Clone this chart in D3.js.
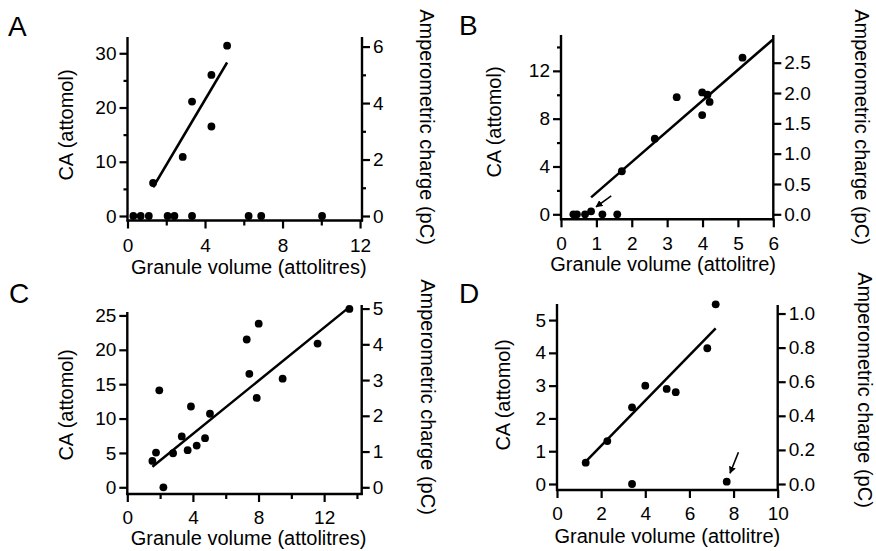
<!DOCTYPE html>
<html>
<head>
<meta charset="utf-8">
<script src="https://cdn.jsdelivr.net/npm/d3@7"></script>
<style>
  body { margin: 0; background: #fff; }
  text { font-family: "Liberation Sans", Arial, Helvetica, sans-serif; fill: #000; }
</style>
</head>
<body>
<div class="chart"></div>
<script>
// ---- data ----
// A
var aVolume = [0.3, 0.68, 1.1, 2.07, 2.42, 3.33, 6.25, 6.9, 10.04, 1.32, 2.85, 3.33, 4.33, 4.33, 5.14];
var aCA     = [0, 0, 0, 0, 0, 0, 0, 0, 0, 6.1, 10.9, 21.1, 16.5, 26.0, 31.4];
var aFitX = [1.32, 5.14], aFitY = [5.3, 28.3];
// B
var bVolume = [0.35, 0.45, 0.68, 0.85, 1.17, 1.59, 1.72, 2.65, 3.27, 3.99, 3.99, 4.14, 4.2, 5.13];
var bCA     = [0, 0, 0, 0.25, 0, 0, 3.6, 6.33, 9.8, 10.2, 8.3, 10.0, 9.4, 13.1];
var bFitX = [0.85, 6.0], bFitY = [1.42, 14.65];
var bArrow = [[1.42, 1.55], [0.99, 0.62]];
// C
var cVolume = [1.53, 1.75, 1.95, 2.2, 2.79, 3.32, 3.68, 3.88, 4.23, 4.74, 5.04, 7.28, 7.44, 8.01, 7.89, 9.47, 11.6, 13.54];
var cCA     = [3.83, 5.05, 14.1, 0, 4.95, 7.4, 5.4, 11.75, 6.07, 7.14, 10.7, 21.5, 16.5, 23.8, 13.0, 15.8, 20.9, 25.95];
var cFitX = [1.53, 13.48], cFitY = [3.0, 26.1];
// D
var dVolume = [1.3, 2.28, 3.4, 3.4, 4.0, 4.97, 5.38, 6.81, 7.19, 7.69];
var dCA     = [0.65, 1.31, 2.34, 0, 3.0, 2.9, 2.8, 4.14, 5.48, 0.07];
var dFitX = [1.3, 7.19], dFitY = [0.68, 4.75];
var dArrow = [[8.22, 0.97], [7.84, 0.33]];

// ticks
var aXTicks = [0, 4, 8, 12], aXMinor = [2, 6, 10];
var aYTicks = [0, 10, 20, 30], aYMinor = [5, 15, 25];
var aRTicks = [0, 2, 4, 6], aRMinor = [1, 3, 5];
var bXTicks = [0, 1, 2, 3, 4, 5, 6], bXMinor = [];
var bYTicks = [0, 4, 8, 12], bYMinor = [2, 6, 10, 14];
var bRTicks = [0, 0.5, 1.0, 1.5, 2.0, 2.5], bRMinor = [];
var cXTicks = [0, 4, 8, 12], cXMinor = [2, 6, 10, 14];
var cYTicks = [0, 5, 10, 15, 20, 25], cYMinor = [];
var cRTicks = [0, 1, 2, 3, 4, 5], cRMinor = [];
var dXTicks = [0, 2, 4, 6, 8, 10], dXMinor = [];
var dYTicks = [0, 1, 2, 3, 4, 5], dYMinor = [];
var dRTicks = [0, 0.2, 0.4, 0.6, 0.8, 1.0], dRMinor = [];

var svg = d3.select(".chart")
    .append("svg")
    .attr("width", 876)
    .attr("height", 551);

svg.append("defs").append("marker")
    .attr("id", "head")
    .attr("viewBox", "0 0 10 10")
    .attr("refX", 9).attr("refY", 5)
    .attr("markerWidth", 4.5).attr("markerHeight", 4.5)
    .attr("markerUnits", "strokeWidth")
    .attr("orient", "auto")
    .append("path")
    .attr("d", "M0,0 L10,5 L0,10 z")
    .attr("fill", "black");

function panel(p) {
    var g = svg.append("g");
    var x = d3.scaleLinear().domain([0, p.xMax]).range([p.left, p.right]);
    var y = d3.scaleLinear().domain([0, p.yMax]).range([p.zero, p.yTop]);
    var r = d3.scaleLinear().domain([0, p.rMax]).range([p.zero, p.rTop]);

    function style(ax) {
        ax.select(".domain").remove();
        ax.selectAll("line").attr("stroke", "black").attr("stroke-width", 2.2);
        ax.selectAll("text").style("font-size", "19px")
            .style("font-family", '"Liberation Sans", Arial, sans-serif');
    }

    // left axis
    var la = g.append("g").attr("transform", "translate(" + p.left + ",0)")
        .call(d3.axisLeft(y).tickValues(p.yTicks).tickSize(8).tickPadding(3).tickFormat(d3.format("d")));
    style(la);
    var lm = g.append("g").attr("transform", "translate(" + p.left + ",0)")
        .call(d3.axisLeft(y).tickValues(p.yMinor).tickSize(4).tickFormat(""));
    style(lm);
    // right axis
    var ra = g.append("g").attr("transform", "translate(" + p.right + ",0)")
        .call(d3.axisRight(r).tickValues(p.rTicks).tickSize(8).tickPadding(3).tickFormat(d3.format(p.rFmt)));
    style(ra);
    var rm = g.append("g").attr("transform", "translate(" + p.right + ",0)")
        .call(d3.axisRight(r).tickValues(p.rMinor).tickSize(4).tickFormat(""));
    style(rm);
    // bottom axis
    var ba = g.append("g").attr("transform", "translate(0," + p.base + ")")
        .call(d3.axisBottom(x).tickValues(p.xTicks).tickSize(8).tickPadding(p.xPad).tickFormat(d3.format("d")));
    style(ba);
    var bm = g.append("g").attr("transform", "translate(0," + p.base + ")")
        .call(d3.axisBottom(x).tickValues(p.xMinor).tickSize(5).tickFormat(""));
    style(bm);

    // axis lines
    g.append("line").attr("x1", p.left).attr("x2", p.left)
        .attr("y1", p.yTop).attr("y2", p.base + 1)
        .attr("stroke", "black").attr("stroke-width", 2.4);
    g.append("line").attr("x1", p.right).attr("x2", p.right)
        .attr("y1", p.rTop).attr("y2", p.base + 1)
        .attr("stroke", "black").attr("stroke-width", 2.4);
    g.append("line").attr("x1", p.left - 1).attr("x2", p.right + 1)
        .attr("y1", p.base).attr("y2", p.base)
        .attr("stroke", "black").attr("stroke-width", 2.4);

    // fit line
    g.append("line")
        .attr("x1", x(p.fitX[0])).attr("y1", y(p.fitY[0]))
        .attr("x2", x(p.fitX[1])).attr("y2", y(p.fitY[1]))
        .attr("stroke", "black").attr("stroke-width", 2.5);

    // points
    g.selectAll("circle.pt")
        .data(p.vol.map(function (v, i) { return [v, p.ca[i]]; }))
        .enter().append("circle")
        .attr("cx", function (d) { return x(d[0]); })
        .attr("cy", function (d) { return y(d[1]); })
        .attr("r", 3.9)
        .attr("fill", "black");

    if (p.arrow) {
        g.append("line")
            .attr("x1", x(p.arrow[0][0])).attr("y1", y(p.arrow[0][1]))
            .attr("x2", x(p.arrow[1][0])).attr("y2", y(p.arrow[1][1]))
            .attr("stroke", "black").attr("stroke-width", 1.6)
            .attr("marker-end", "url(#head)");
    }

    // titles
    g.append("text").attr("x", p.letterX).attr("y", p.letterY)
        .text(p.letter).style("font-size", "28px");
    g.append("text").attr("x", (p.left + p.right) / 2 + p.xTitleDx).attr("y", p.xTitleY)
        .attr("text-anchor", "middle").style("font-size", "20px")
        .text(p.xTitle);
    g.append("text")
        .attr("transform", "translate(" + p.yTitleX + "," + p.yTitleY + ") rotate(-90)")
        .attr("text-anchor", "middle").attr("dy", "0.36em").style("font-size", "20px")
        .text("CA (attomol)");
    g.append("text")
        .attr("transform", "translate(" + p.rTitleX + "," + p.rTitleY + ") rotate(90)")
        .attr("text-anchor", "middle").attr("dy", "0.36em").style("font-size", "20px")
        .text("Amperometric charge (pC)");
}

panel({
    letter: "A", letterX: 8, letterY: 36,
    vol: aVolume, ca: aCA, fitX: aFitX, fitY: aFitY,
    left: 127.5, right: 362, xMax: 12.1, base: 220.5, xPad: 10,
    zero: 216, yMax: 33, yTop: 37, rMax: 6.34, rTop: 37, rFmt: "d",
    xTicks: aXTicks, xMinor: aXMinor, yTicks: aYTicks, yMinor: aYMinor, rTicks: aRTicks, rMinor: aRMinor,
    xTitle: "Granule volume (attolitres)", xTitleDx: 4, xTitleY: 274,
    yTitleX: 66, yTitleY: 125, rTitleX: 427, rTitleY: 127
});
panel({
    letter: "B", letterX: 459, letterY: 35,
    vol: bVolume, ca: bCA, fitX: bFitX, fitY: bFitY, arrow: bArrow,
    left: 561, right: 773.3, xMax: 6.0, base: 219.3, xPad: 9,
    zero: 214.3, yMax: 15, yTop: 35, rMax: 2.957, rTop: 35, rFmt: ".1f",
    xTicks: bXTicks, xMinor: bXMinor, yTicks: bYTicks, yMinor: bYMinor, rTicks: bRTicks, rMinor: bRMinor,
    xTitle: "Granule volume (attolitre)", xTitleDx: -4, xTitleY: 271,
    yTitleX: 494, yTitleY: 122, rTitleX: 862, rTitleY: 127
});
panel({
    letter: "C", letterX: 9, letterY: 303,
    vol: cVolume, ca: cCA, fitX: cFitX, fitY: cFitY,
    left: 127.3, right: 361.7, xMax: 14.29, base: 494, xPad: 9,
    zero: 487.3, yMax: 25.5, yTop: 312, rMax: 5.1, rTop: 305, rFmt: "d",
    xTicks: cXTicks, xMinor: cXMinor, yTicks: cYTicks, yMinor: cYMinor, rTicks: cRTicks, rMinor: cRMinor,
    xTitle: "Granule volume (attolitres)", xTitleDx: 4, xTitleY: 545,
    yTitleX: 66, yTitleY: 405, rTitleX: 428, rTitleY: 397
});
panel({
    letter: "D", letterX: 459, letterY: 303,
    vol: dVolume, ca: dCA, fitX: dFitX, fitY: dFitY, arrow: dArrow,
    left: 557, right: 777.7, xMax: 10, base: 490, xPad: 9,
    zero: 484, yMax: 5.49, yTop: 304, rMax: 1.05, rTop: 305, rFmt: ".1f",
    xTicks: dXTicks, xMinor: dXMinor, yTicks: dYTicks, yMinor: dYMinor, rTicks: dRTicks, rMinor: dRMinor,
    xTitle: "Granule volume (attolitre)", xTitleDx: 0, xTitleY: 543,
    yTitleX: 503, yTitleY: 395, rTitleX: 865, rTitleY: 390
});
</script>
</body>
</html>
